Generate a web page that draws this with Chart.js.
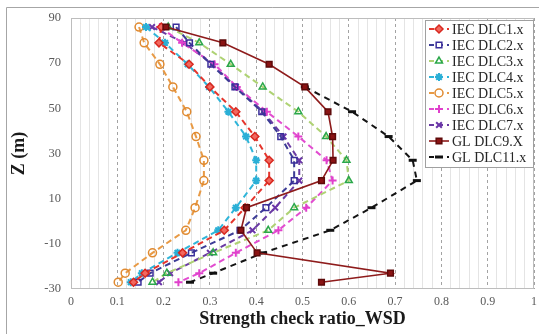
<!DOCTYPE html>
<html>
<head>
<meta charset="utf-8">
<script src="https://cdn.jsdelivr.net/npm/chart.js@4.4.1/dist/chart.umd.min.js"></script>
<style>
  html, body { margin: 0; padding: 0; background: #fff; }
  #wrap { position: relative; width: 544px; height: 334px; }
</style>
</head>
<body>
<div id="wrap"><canvas id="chart" width="544" height="334"></canvas></div>
<script>
// heights along the tower (m)
const heights = [86, 79, 69.5, 59.5, 48.5, 37.5, 27, 18, 6, -4, -14, -23, -27];

// strength check ratios, one value per height
const dlc1 = [0.195, 0.19, 0.255, 0.30, 0.356, 0.397, 0.428, 0.428, 0.376, 0.331, 0.241, 0.16, 0.135];
const dlc2 = [0.227, 0.256, 0.302, 0.354, 0.412, 0.453, 0.482, 0.482, 0.421, 0.365, 0.26, 0.171, 0.145];
const dlc3 = [0.21, 0.277, 0.345, 0.414, 0.491, 0.551, 0.595, 0.60, 0.482, 0.426, 0.307, 0.207, 0.176];
const dlc4 = [0.162, 0.203, 0.252, 0.298, 0.34, 0.378, 0.40, 0.40, 0.356, 0.318, 0.23, 0.153, 0.129];
const dlc5 = [0.147, 0.158, 0.192, 0.22, 0.25, 0.27, 0.287, 0.287, 0.268, 0.248, 0.176, 0.117, 0.102];
const dlc6 = [0.192, 0.24, 0.31, 0.358, 0.423, 0.491, 0.552, 0.565, 0.508, 0.448, 0.356, 0.277, 0.232];
const dlc7 = [0.175, 0.245, 0.305, 0.356, 0.415, 0.459, 0.493, 0.493, 0.441, 0.392, 0.30, 0.214, 0.19];
const glDlc9 = [0.205, 0.328, 0.428, 0.505, 0.555, 0.565, 0.566, 0.541, 0.379, 0.367, 0.402, 0.690, 0.541];
const glDlc11 = [null, null, null, 0.505, 0.607, 0.686, 0.738, 0.747, 0.649, 0.56, 0.415, 0.307, 0.257];

const seriesNames = ["IEC DLC1.x", "IEC DLC2.x", "IEC DLC3.x", "IEC DLC4.x", "IEC DLC5.x",
                     "IEC DLC6.x", "IEC DLC7.x", "GL DLC9.X", "GL DLC11.x"];
const xTickMajor = [0, 0.1, 0.2, 0.3, 0.4, 0.5, 0.6, 0.7, 0.8, 0.9, 1];

const serif = '"Liberation Serif", "Times New Roman", serif';

function toPoints(values) {
    return heights.map((h, i) => ({ x: values[i], y: h }));
}

function isMajor(v) {
    return xTickMajor.some(m => Math.abs(m - v) < 1e-6);
}

function series(idx, values, line, marker) {
    return Object.assign({
        label: seriesNames[idx],
        data: toPoints(values),
        fill: false,
        tension: 0,
        borderWidth: 2,
        borderDash: [6, 4],
        pointRadius: 4,
        pointBorderWidth: 1.5,
        pointBackgroundColor: "rgba(255,255,255,0)"
    }, line, marker);
}

const datasets = [
    series(0, dlc1, { borderColor: "#E5352C" },
        { pointStyle: "rectRot", pointBorderColor: "#D8281F", pointBackgroundColor: "#F2685F" }),
    series(1, dlc2, { borderColor: "#3C3C96" },
        { pointStyle: "rect", pointBorderColor: "#3A2E9A" }),
    series(2, dlc3, { borderColor: "#AED273" },
        { pointStyle: "triangle", pointBorderColor: "#2BA84A" }),
    series(3, dlc4, { borderColor: "#2FB5D9" },
        { pointStyle: "star", pointBorderColor: "#2AAFD6", pointBorderWidth: 2 }),
    series(4, dlc5, { borderColor: "#E89A45" },
        { pointStyle: "circle", pointBorderColor: "#E08A30" }),
    series(5, dlc6, { borderColor: "#E24CD0" },
        { pointStyle: "cross", pointBorderColor: "#E040CC", pointBorderWidth: 2 }),
    series(6, dlc7, { borderColor: "#6A3BA3" },
        { pointStyle: "crossRot", pointBorderColor: "#6A35A8", pointBorderWidth: 2 }),
    series(7, glDlc9, { borderColor: "#8E1B1B", borderDash: [], borderWidth: 1.6, order: -1 },
        { pointStyle: "rect", pointRadius: 4, pointBorderColor: "#5E0A0A", pointBackgroundColor: "#8A1313" }),
    series(8, glDlc11, { borderColor: "#141414", borderDash: [6, 5] },
        { pointStyle: "line", pointRadius: 4, pointBorderWidth: 3, pointBorderColor: "#111" })
];

// outer frame and plot-area border
const frame = {
    id: "frame",
    beforeDraw(chart) {
        const ctx = chart.ctx;
        ctx.save();
        ctx.fillStyle = "#fff";
        ctx.fillRect(0, 0, chart.width, chart.height);
        ctx.strokeStyle = "#a6a6a6";
        ctx.lineWidth = 1;
        ctx.beginPath();
        ctx.moveTo(6.5, chart.height);
        ctx.lineTo(6.5, 7.5);
        ctx.lineTo(chart.width - 5, 7.5);
        ctx.stroke();
        ctx.restore();
    },
    afterDatasetsDraw(chart) {
        const a = chart.chartArea;
        const ctx = chart.ctx;
        ctx.save();
        ctx.strokeStyle = "#bdbdbd";
        ctx.lineWidth = 1;
        ctx.strokeRect(Math.round(a.left) + 0.5, Math.round(a.top) + 0.5,
            Math.round(a.right - a.left) - 1, Math.round(a.bottom - a.top) - 1);
        ctx.restore();
    }
};

// legend box inside the plot, top right
const boxLegend = {
    id: "boxLegend",
    afterDraw(chart) {
        const ctx = chart.ctx;
        const a = chart.chartArea;
        const w = 108, rowH = 16;
        const left = a.right - w - 1, top = a.top + 2;
        const h = rowH * chart.data.datasets.length + 3;
        ctx.save();
        ctx.fillStyle = "#fff";
        ctx.fillRect(left, top, w, h);
        ctx.strokeStyle = "#a0a0a0";
        ctx.lineWidth = 1;
        ctx.strokeRect(left + 0.5, top + 0.5, w, h);
        chart.data.datasets.forEach((ds, i) => {
            const y = top + 9 + i * rowH;
            const x0 = left + 4, x1 = left + 24, xm = (x0 + x1) / 2;
            ctx.strokeStyle = ds.borderColor;
            ctx.lineWidth = ds.borderWidth;
            ctx.setLineDash(ds.borderDash.length ? [5, 4] : []);
            ctx.beginPath();
            ctx.moveTo(x0, y);
            ctx.lineTo(x1, y);
            ctx.stroke();
            ctx.setLineDash([]);
            ctx.strokeStyle = ds.pointBorderColor;
            ctx.fillStyle = ds.pointBackgroundColor === "rgba(255,255,255,0)" ? "#fff" : ds.pointBackgroundColor;
            ctx.lineWidth = ds.pointBorderWidth;
            Chart.helpers.drawPoint(ctx, {
                pointStyle: ds.pointStyle, radius: ds.pointRadius, rotation: 0, borderWidth: ds.pointBorderWidth
            }, xm, y);
            ctx.fillStyle = "#262626";
            ctx.font = "14px " + serif;
            ctx.textBaseline = "middle";
            ctx.textAlign = "left";
            ctx.fillText(ds.label, x1 + 3, y + 1);
        });
        ctx.restore();
    }
};

new Chart(document.getElementById("chart"), {
    type: "line",
    data: { datasets: datasets },
    options: {
        responsive: false,
        animation: false,
        layout: { padding: { top: 18, right: 10, left: 0, bottom: 0 } },
        plugins: {
            legend: { display: false },
            tooltip: { enabled: false }
        },
        scales: {
            x: {
                type: "linear",
                min: 0,
                max: 1,
                afterFit: s => { s.height = 45; },
                ticks: {
                    stepSize: 0.02,
                    autoSkip: false,
                    maxRotation: 0,
                    padding: 6,
                    color: "#595959",
                    font: { family: serif, size: 12 },
                    callback: v => isMajor(v) ? String(Math.round(v * 10) / 10) : ""
                },
                grid: {
                    drawTicks: false,
                    color: c => (c.tick && isMajor(c.tick.value)) ? "#a3a3a3" : "#e4e4e4",
                    lineWidth: 1
                },
                border: {
                    display: false,
                    dash: c => (c.tick && isMajor(c.tick.value)) ? [3, 3] : []
                },
                title: {
                    display: true,
                    text: "Strength check ratio_WSD",
                    color: "#1a1a1a",
                    font: { family: serif, size: 18, weight: "bold" },
                    padding: { top: 0, bottom: 4 }
                }
            },
            y: {
                type: "linear",
                min: -30,
                max: 90,
                afterFit: s => { s.width = 71; },
                ticks: {
                    stepSize: 20,
                    padding: 10,
                    color: "#595959",
                    font: { family: serif, size: 12.5 }
                },
                grid: { display: false, drawTicks: false },
                border: { display: false },
                title: {
                    display: true,
                    text: "Z (m)",
                    color: "#1a1a1a",
                    font: { family: serif, size: 18, weight: "bold" },
                    padding: { top: 9, bottom: 0 }
                }
            }
        }
    },
    plugins: [frame, boxLegend]
});
</script>
</body>
</html>
